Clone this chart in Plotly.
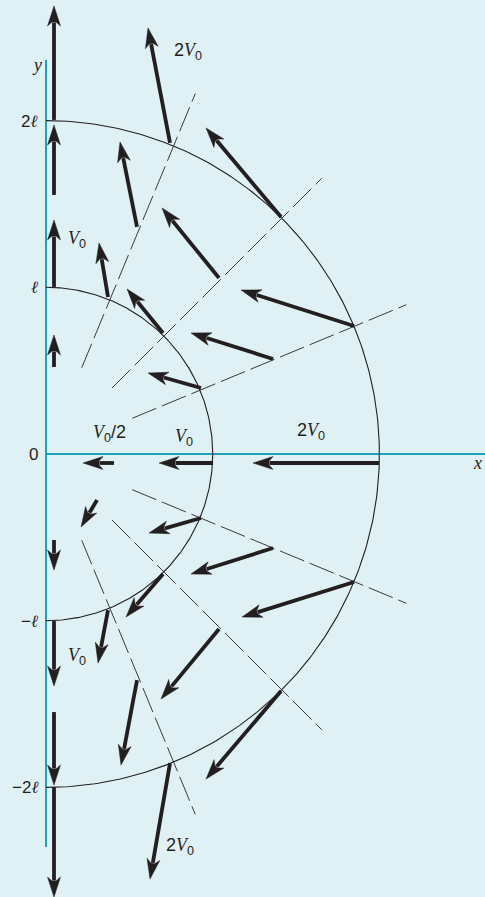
import numpy as np
import plotly.graph_objects as go

# ---------------- data (lengths in units of l, velocities drawn to scale) ----------------
# arrow tails (x, y) and drawn vector components (u, v)
arrow_x = [0.048, 0.048, 0.048, 0.048, 0.048, 0.048, 0.048, 0.048,
           1.998, 1.002, 0.408,
           0.930, 1.362, 1.848, 0.702, 1.038, 1.410, 0.372, 0.546, 0.744,
           0.930, 1.362, 1.848, 0.702, 1.038, 1.410, 0.372, 0.546, 0.744,
           0.306]
arrow_y = [2.004, 1.554, 1.002, 0.522, -0.516, -1.002, -1.548, -1.998,
           -0.054, -0.054, -0.054,
           0.396, 0.570, 0.768, 0.726, 1.056, 1.422, 0.942, 1.362, 1.866,
           -0.384, -0.564, -0.768, -0.720, -1.050, -1.422, -0.936, -1.356, -1.854,
           -0.276]
arrow_u = [0.0, 0.0, 0.0, 0.0, 0.0, 0.0, 0.0, 0.0,
           -0.756, -0.324, -0.186,
           -0.318, -0.492, -0.678, -0.216, -0.342, -0.450, -0.054, -0.102, -0.132,
           -0.312, -0.492, -0.672, -0.222, -0.348, -0.450, -0.060, -0.096, -0.120,
           -0.096]
arrow_v = [0.684, 0.420, 0.402, 0.192, -0.180, -0.390, -0.438, -0.660,
           0.0, 0.0, 0.0,
           0.090, 0.156, 0.216, 0.264, 0.420, 0.534, 0.324, 0.510, 0.690,
           -0.090, -0.156, -0.210, -0.258, -0.420, -0.528, -0.318, -0.510, -0.696,
           -0.162]

circle_radii = [1, 2]
ray_angles = [22.5, 45, 67.5, -22.5, -45, -67.5]
ray_r_start, ray_r_end = 0.56, 2.34

ELL = '<span style="font-family:DejaVu Serif;font-style:italic">\u2113</span>'
tick_vals = [2, 1, 0, -1, -2]
tick_text = ['2' + ELL, ELL, '0', '\u2212' + ELL, '\u22122' + ELL]

V = '<span style="font-family:Liberation Serif"><i>V</i></span>'
label_text = ['2' + V + '<sub>0</sub>', V + '<sub>0</sub>', V + '<sub>0</sub>/2',
              V + '<sub>0</sub>', '2' + V + '<sub>0</sub>', V + '<sub>0</sub>',
              '2' + V + '<sub>0</sub>']
label_x = [0.852, 0.186, 0.378, 0.828, 1.590, 0.186, 0.804]
label_y = [2.412, 1.284, 0.126, 0.102, 0.138, -1.212, -2.352]

# ---------------- geometry ----------------
W, H = 485, 897
S = 166.7            # pixels per l
X0, Y0 = 46, 454     # pixel position of origin
xr = [-X0 / S, (W - X0) / S]
yr = [-(H - Y0) / S, Y0 / S]

BG = '#dff1f4'
TEAL = '#1fa0b4'
INK = '#231f20'

fig = go.Figure()

# axes lines
fig.add_trace(go.Scatter(x=[0, 0], y=[2.364, -2.357], mode='lines',
                         line=dict(color=TEAL, width=2), hoverinfo='skip'))
fig.add_trace(go.Scatter(x=[0, xr[1] + 0.05], y=[0, 0], mode='lines',
                         line=dict(color=TEAL, width=2), hoverinfo='skip'))

# circular arcs
th = np.linspace(-np.pi / 2, np.pi / 2, 300)
for r in circle_radii:
    fig.add_trace(go.Scatter(x=r * np.cos(th), y=r * np.sin(th), mode='lines',
                             line=dict(color=INK, width=1.1), hoverinfo='skip'))

# dashed rays
for a in ray_angles:
    t = np.deg2rad(a)
    fig.add_trace(go.Scatter(x=[ray_r_start * np.cos(t), ray_r_end * np.cos(t)],
                             y=[ray_r_start * np.sin(t), ray_r_end * np.sin(t)],
                             mode='lines',
                             line=dict(color='#3a3a3a', width=1, dash='26px,6px'),
                             hoverinfo='skip'))

# arrows
head_len = 20 / S
head_half = 6.5 / S
notch = 16 / S
shaft_half = 1.9 / S
sx, sy, hx, hy = [], [], [], []
for tx, ty, u, v in zip(arrow_x, arrow_y, arrow_u, arrow_v):
    L = np.hypot(u, v)
    dx, dy = u / L, v / L
    nx, ny = -dy, dx
    px, py = tx + u, ty + v
    sx += [tx, px - (notch + 0.5 / S) * dx, None]
    sy += [ty, py - (notch + 0.5 / S) * dy, None]
    pts = [(px, py),
           (px - head_len * dx + head_half * nx, py - head_len * dy + head_half * ny),
           (px - notch * dx + shaft_half * nx, py - notch * dy + shaft_half * ny),
           (px - notch * dx - shaft_half * nx, py - notch * dy - shaft_half * ny),
           (px - head_len * dx - head_half * nx, py - head_len * dy - head_half * ny),
           (px, py)]
    hx += [p[0] for p in pts] + [None]
    hy += [p[1] for p in pts] + [None]

fig.add_trace(go.Scatter(x=sx, y=sy, mode='lines',
                         line=dict(color=INK, width=3.8), hoverinfo='skip'))
fig.add_trace(go.Scatter(x=hx, y=hy, mode='lines', fill='toself', fillcolor=INK,
                         line=dict(color=INK, width=0.5), hoverinfo='skip'))

annotations = []
for v_, t_ in zip(tick_vals, tick_text):
    annotations.append(dict(x=-0.036, y=v_, text=t_, showarrow=False,
                            xanchor='right', yanchor='middle',
                            font=dict(size=17, color=INK, family='Liberation Sans')))
annotations.append(dict(x=-0.054, y=2.334, text='<i>y</i>', showarrow=False,
                        font=dict(size=18, color=INK, family='Liberation Serif')))
annotations.append(dict(x=2.586, y=-0.054, text='<i>x</i>', showarrow=False,
                        font=dict(size=18, color=INK, family='Liberation Serif')))
for t_, x_, y_ in zip(label_text, label_x, label_y):
    annotations.append(dict(x=x_, y=y_, text=t_, showarrow=False,
                            font=dict(size=18, color=INK, family='Liberation Sans')))

fig.update_layout(
    width=W, height=H, margin=dict(l=0, r=0, t=0, b=0),
    paper_bgcolor=BG, plot_bgcolor=BG, showlegend=False,
    xaxis=dict(range=xr, visible=False, fixedrange=True),
    yaxis=dict(range=yr, visible=False, fixedrange=True),
    annotations=annotations,
)

fig.write_html("out.html", config={'displayModeBar': False, 'staticPlot': True},
               post_script="document.body.style.margin='0';document.body.style.padding='0';"
                           "document.documentElement.style.background='" + BG + "';")
